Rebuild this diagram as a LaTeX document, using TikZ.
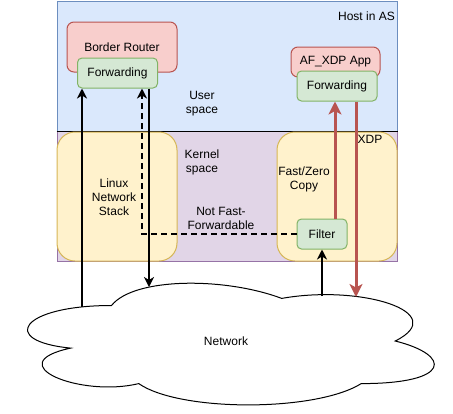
\documentclass[tikz,border=0pt]{standalone}
\usepackage{fontspec}
\setmainfont{Liberation Sans}
\usetikzlibrary{arrows.meta}
\definecolor{userF}{HTML}{DAE8FC}\definecolor{userD}{HTML}{6C8EBF}
\definecolor{kernF}{HTML}{E1D5E7}\definecolor{kernD}{HTML}{9673A6}
\definecolor{yelF}{HTML}{FFF2CC}\definecolor{yelD}{HTML}{D6B656}
\definecolor{redF}{HTML}{F8CECC}\definecolor{redD}{HTML}{B85450}
\definecolor{grnF}{HTML}{D5E8D4}\definecolor{grnD}{HTML}{82B366}
\begin{document}
\begin{tikzpicture}[x=1pt,y=-1pt,
  every node/.style={font=\fontsize{12}{14}\selectfont, inner sep=0pt},
  region/.style={draw=#1D, fill=#1F, line width=1pt},
  panel/.style={draw=yelD, fill=yelF, line width=1pt, rounded corners=18pt},
  appbox/.style={draw=redD, fill=redF, line width=1pt, rounded corners=7pt},
  fwdbox/.style={draw=grnD, fill=grnF, line width=1pt, rounded corners=4.5pt},
  lbl/.style={align=center},
  blk/.style={draw=black, line width=2pt, -{Stealth[length=10pt,width=10pt,inset=3pt]}},
  blkdash/.style={blk, dash pattern=on 6pt off 4pt},
  xdp/.style={draw=redD, line width=3pt, -{Stealth[length=13pt,width=13pt,inset=3.5pt]}}]
\useasboundingbox (0,0) rectangle (453,413);

% user space and kernel space
\node[region=user, minimum width=340pt, minimum height=130pt] (user) at (227,66) {};
\node[region=kern, minimum width=340pt, minimum height=130pt] (kern) at (227,196) {};
\draw[line width=1.2pt] (user.south west) -- (user.south east);

% kernel panels
\node[panel, minimum width=120pt, minimum height=129pt] (stack) at (117,196.5) {};
\node[panel, minimum width=120pt, minimum height=129pt] (fast) at (337,196.5) {};

% applications
\node[appbox, minimum width=110pt, minimum height=50pt] (br) at (122,47) {Border Router};
\node[fwdbox, minimum width=80pt, minimum height=30pt] (fwdL) at (117.5,73) {Forwarding};
\node[appbox, minimum width=89pt, minimum height=30pt] (afx) at (335.5,62) {AF\_XDP App};
\node[fwdbox, minimum width=80pt, minimum height=30pt] (fwdR) at (337,86) {Forwarding};
\node[fwdbox, minimum width=50pt, minimum height=30pt] (filter) at (322,234) {Filter};

% labels
\node[anchor=east] (host) at (395,16) {Host in AS};
\node[lbl] (ulbl) at (202,104) {User\\space};
\node[lbl] (klbl) at (202,162) {Kernel\\space};
\node[lbl] (slbl) at (114,197) {Linux\\Network\\Stack};
\node[lbl] (flbl) at (304,179) {Fast/Zero\\Copy};
\node[lbl] (nlbl) at (221,218) {Not Fast-\\Forwardable};
\node (xlbl) at (370,139) {XDP};

% network cloud
\draw[line width=1pt, fill=white]
  (111.5,305.5) .. controls (20.7,305.5) and (-2,341) .. (70.64,348.1)
  .. controls (-2,363.72) and (79.72,397.8) .. (138.74,383.6)
  .. controls (179.6,412) and (315.8,412) .. (361.2,383.6)
  .. controls (452,383.6) and (452,355.2) .. (395.25,341)
  .. controls (452,312.6) and (361.2,284.2) .. (281.75,298.4)
  .. controls (225,277.1) and (134.2,277.1) .. (111.5,305.5) -- cycle;
\node (net) at (226,341) {Network};

% connector ends on the cloud
\coordinate (inL) at (82,307);
\coordinate (outL) at (149,287);
\coordinate (inR) at (322,296);
\coordinate (outR) at (356,297);
\coordinate (bend) at (142,234);
\coordinate (up) at (335,0);

% connectors
\draw[blk] (inL) -- (inL |- fwdL.south);
\draw[blk] (outL |- fwdL.south) -- (outL);
\draw[blkdash] (filter.west) -- (bend) -- (bend |- fwdL.south);
\draw[blk] (inR) -- (filter.south);
\draw[xdp] (up |- filter.north) -- (up |- fwdR.south);
\draw[xdp] (outR |- fwdR.south) -- (outR);
\end{tikzpicture}
\end{document}
